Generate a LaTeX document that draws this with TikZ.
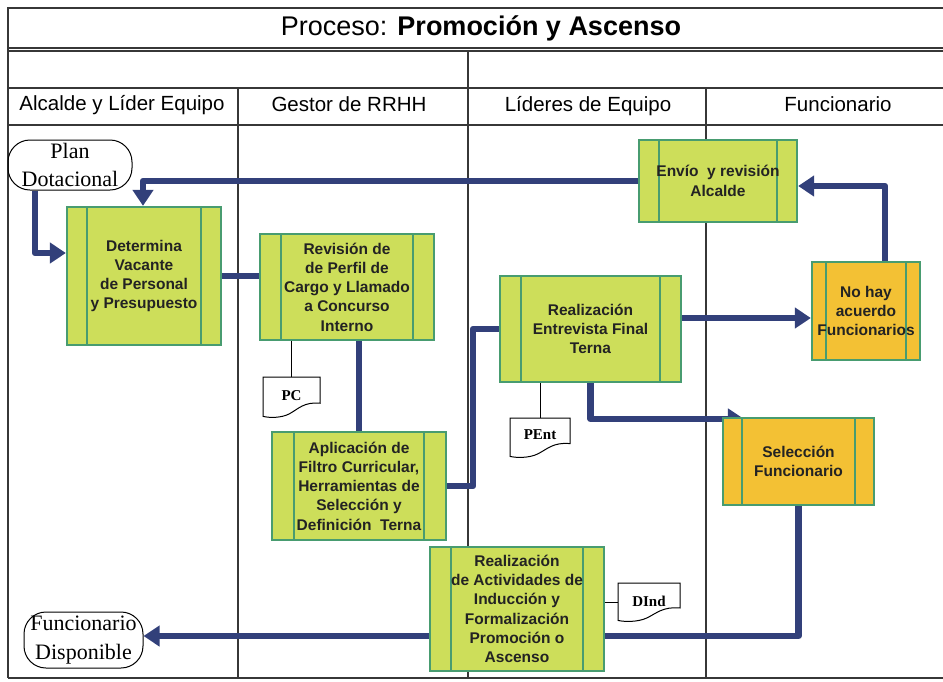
\documentclass[tikz,border=0pt]{standalone}
\usepackage{fontspec}
\setmainfont{Liberation Sans}
\newfontfamily\serifx{Liberation Serif}
\usetikzlibrary{arrows.meta,calc,backgrounds}
\definecolor{navy}{RGB}{50,64,122}
\definecolor{boxgreen}{RGB}{205,222,90}
\definecolor{edgegreen}{RGB}{72,156,112}
\definecolor{boxorange}{RGB}{243,193,52}
\definecolor{lanegray}{RGB}{55,55,55}
\definecolor{txt}{RGB}{35,35,35}
\tikzset{
  procbox/.style={draw=edgegreen, line width=2.2pt, fill=boxgreen, inner sep=0pt,
    align=center, font=\fontsize{15.5}{19.3}\selectfont\bfseries, text=txt,
    path picture={\draw[edgegreen,line width=2.2pt]
      ([xshift=#1]path picture bounding box.north west) -- ([xshift=#1]path picture bounding box.south west)
      ([xshift=-#1]path picture bounding box.north east) -- ([xshift=-#1]path picture bounding box.south east);}},
  procbox/.default=20pt,
  orangebox/.style={fill=boxorange},
  termbox/.style={draw=black, line width=1pt, rounded corners=22pt, inner sep=0pt, align=center,
    font=\serifx\fontsize{22}{28.5}\selectfont},
  docnode/.style={inner sep=0pt, font=\serifx\bfseries\fontsize{15}{17}\selectfont},
  docline/.style={draw=black, line width=1pt, fill=white},
  laneline/.style={draw=lanegray, line width=1.3pt},
  header/.style={font=\fontsize{20.5}{23}\selectfont, text=black},
  flowline/.style={draw=navy, line width=6.5pt, line join=round},
  flowarrow/.style={flowline, -{Triangle[length=16pt,width=20pt]}},
  thinline/.style={draw=black, line width=1pt},
}
\newcommand\docshape[5]{% name, x0, y0, w, h
  \begin{scope}[shift={(#2,#3)}, xscale=#4, yscale=#5]
    \path[docline] (0,0) -- (1,0) -- (1,0.64)
      .. controls (0.72,0.6) and (0.62,0.78) .. (0.46,0.9)
      .. controls (0.32,1.0) and (0.12,1.0) .. (0,0.96) -- cycle;
  \end{scope}}
\begin{document}
\begin{tikzpicture}[x=1pt,y=-1pt]
\useasboundingbox (0,0) rectangle (943,681);
% ---------- lanes ----------
\begin{pgfonlayer}{background}
\fill[white] (0,0) rectangle (943,681);
\draw[laneline, line width=1.8pt] (8,8) rectangle (960,48);
\draw[laneline, line width=1.8pt] (8,51) -- (943,51);
\draw[laneline] (8,8) -- (8,678);
\draw[laneline] (468,51) -- (468,678);
\draw[laneline] (8,88) -- (943,88);
\draw[laneline] (238,88) -- (238,678);
\draw[laneline] (706,88) -- (706,678);
\draw[laneline] (8,125) -- (943,125);
\draw[laneline] (8,678) -- (943,678);
\end{pgfonlayer}
\node (title) at (481,28) {\fontsize{27}{30}\selectfont Proceso: \textbf{Promoción y Ascenso}};
\node[header] (h1) at (122,105) {Alcalde y Líder Equipo};
\node[header] (h2) at (349,104) {Gestor de RRHH};
\node[header] (h3) at (588,106) {Líderes de Equipo};
\node[header] (h4) at (838,104) {Funcionario};
% ---------- terminals ----------
\node[termbox, minimum width=124pt, minimum height=50pt] (plan) at (70,165) {Plan\\Dotacional};
\node[termbox, minimum width=119pt, minimum height=56pt] (fdisp) at (83.5,640) {Funcionario\\Disponible};
% ---------- process boxes ----------
\node[procbox, minimum width=154pt, minimum height=138pt] (det) at (144,276)
  {Determina\\Vacante\\de Personal\\y Presupuesto};
\node[procbox=21pt, minimum width=174pt, minimum height=106pt] (rev) at (347,287)
  {Revisión de\\de Perfil de\\Cargo y Llamado\\a Concurso\\Interno};
\node[procbox, minimum width=158pt, minimum height=82pt] (env) at (718,181)
  {Envío \ y revisión\\Alcalde};
\node[procbox=21pt, minimum width=181pt, minimum height=106pt] (real) at (590.5,329)
  {Realización\\Entrevista Final\\Terna};
\node[procbox=14pt, orangebox, minimum width=108pt, minimum height=98pt] (nohay) at (866,311)
  {No hay\\acuerdo\\Funcionarios};
\node[procbox=22pt, minimum width=174pt, minimum height=108pt] (apl) at (359,486)
  {Aplicación de\\Filtro Curricular,\\Herramientas de\\Selección y\\Definición \ Terna};
\node[procbox=19pt, orangebox, minimum width=151pt, minimum height=87pt] (sel) at (798.5,461.5)
  {Selección\\Funcionario};
\node[procbox=21pt, minimum width=174pt, minimum height=124pt] (act) at (517,609)
  {Realización\\de Actividades de\\Inducción y\\Formalización\\Promoción o\\Ascenso};
% ---------- documents ----------
\docshape{pc}{263}{377}{57}{41}
\node[docnode, minimum width=57pt, minimum height=41pt] (pc) at (291.5,397.5) {\raisebox{4pt}{PC}};
\docshape{pent}{510}{418}{60}{40}
\node[docnode, minimum width=60pt, minimum height=40pt] (pent) at (540,438) {\raisebox{7pt}{PEnt}};
\docshape{dind}{618}{583}{62}{39}
\node[docnode, minimum width=62pt, minimum height=39pt] (dind) at (649,602.5) {\raisebox{3pt}{DInd}};
% ---------- connectors ----------
\begin{pgfonlayer}{background}
\draw[flowarrow] ([xshift=-35pt]plan.south) |- ([yshift=23pt]det.west);
\draw[flowarrow] (env.west) -| ([xshift=-1pt]det.north);
\draw[flowline] (det.east) -- (det.east -| rev.west);
\draw[flowline] (apl.north |- rev.south) -- (apl.north);
\draw[flowline] (apl.east) -| ($(apl.east)!.5!(real.west)$) |- (real.west);
\draw[flowarrow] ([yshift=11pt]real.east) -- ([yshift=11pt]real.east -| nohay.west);
\draw[flowarrow] ([xshift=19pt]nohay.north) |- ([yshift=-5pt]env.east);
\draw[flowarrow] (real.south) |- ([xshift=22pt,yshift=-2pt]sel.north west);
\draw[flowline] (sel.south) |- ([yshift=-27pt]act.east);
\draw[flowarrow] ([yshift=-27pt]act.west) -- ([yshift=-27pt]act.west -| fdisp.east);
\draw[thinline] (pc.north |- rev.south) -- (pc.north);
\draw[thinline] (pent.north |- real.south) -- (pent.north);
\draw[thinline] (act.east |- dind.west) -- (dind.west);
\end{pgfonlayer}
\end{tikzpicture}
\end{document}
